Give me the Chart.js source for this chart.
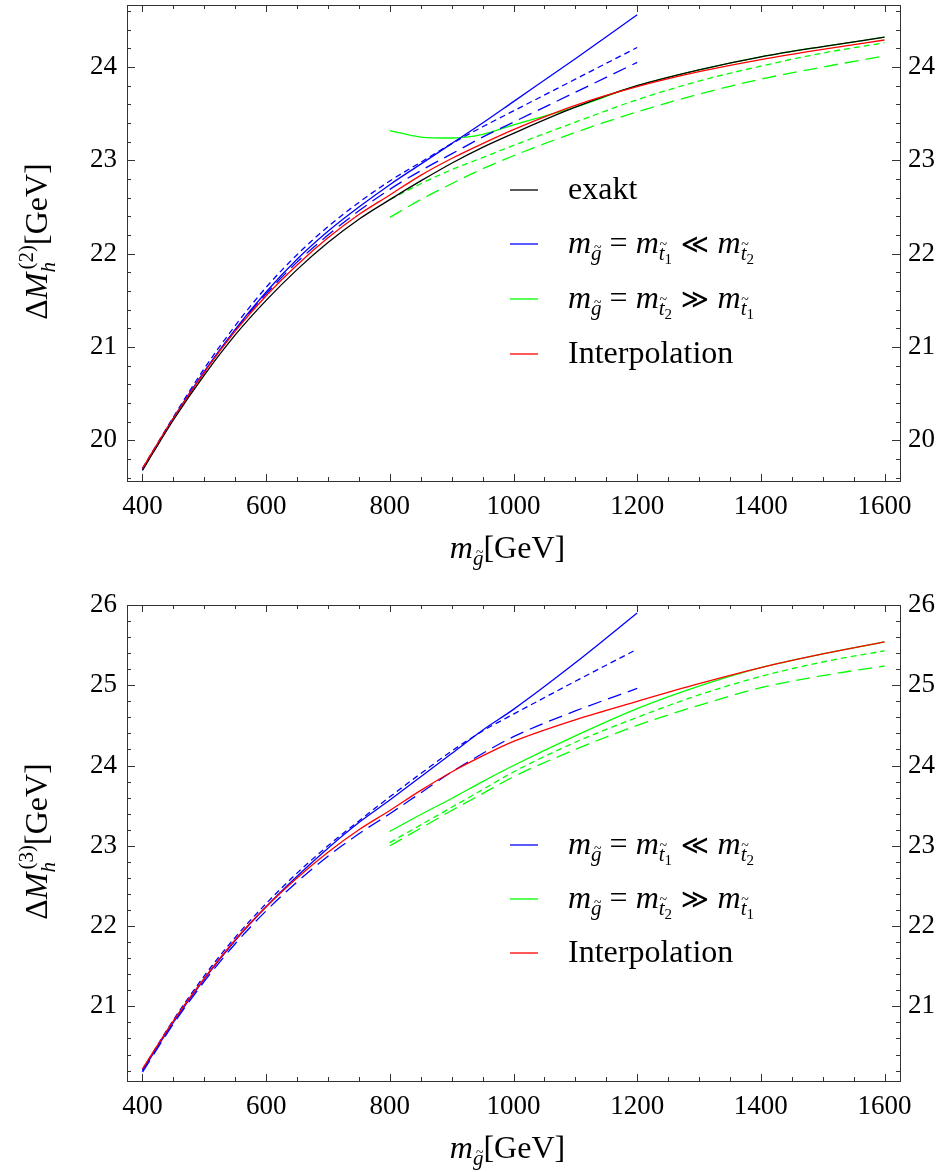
<!DOCTYPE html>
<html>
<head>
<meta charset="utf-8">
<script src="https://cdn.jsdelivr.net/npm/chart.js@4.4.0/dist/chart.umd.min.js"></script>
<style>
  html, body { margin: 0; padding: 0; background: #fff; }
  #wrap { position: relative; width: 940px; height: 1172px; }
  .box { position: absolute; left: 0; width: 940px; height: 586px; }
  #top { top: 0; }
  #bottom { top: 586px; }
</style>
</head>
<body>
<div id="wrap">
  <div class="box" id="top"><canvas id="twoLoop" width="940" height="586"></canvas></div>
  <div class="box" id="bottom"><canvas id="threeLoop" width="940" height="586"></canvas></div>
</div>
<script>
// gluino masses (GeV) for the three kinds of curves
const xFull = [400, 450, 500, 550, 600, 650, 700, 750, 800, 850, 900, 950, 1000, 1100, 1200, 1300, 1400, 1500, 1600];
const xLow  = [400, 450, 500, 550, 600, 650, 700, 750, 800, 850, 900, 950, 1000, 1100, 1200];
const xHigh = [800, 850, 900, 950, 1000, 1100, 1200, 1300, 1400, 1500, 1600];

// two-loop panel
const exakt2      = [19.68, 20.22, 20.70, 21.13, 21.50, 21.83, 22.12, 22.37, 22.58, 22.78, 22.97, 23.14, 23.29, 23.57, 23.80, 23.97, 24.11, 24.22, 24.32];
const interp2     = [19.70, 20.24, 20.73, 21.17, 21.55, 21.88, 22.17, 22.42, 22.63, 22.84, 23.02, 23.18, 23.33, 23.59, 23.79, 23.95, 24.08, 24.19, 24.29];
const blueSolid2  = [19.69, 20.24, 20.74, 21.19, 21.59, 21.94, 22.24, 22.50, 22.74, 22.96, 23.18, 23.40, 23.63, 24.09, 24.56];
const blueShort2  = [19.70, 20.25, 20.77, 21.23, 21.64, 21.99, 22.29, 22.55, 22.78, 22.98, 23.18, 23.36, 23.53, 23.87, 24.21];
const blueLong2   = [19.68, 20.23, 20.73, 21.18, 21.57, 21.91, 22.20, 22.46, 22.69, 22.89, 23.07, 23.25, 23.41, 23.73, 24.05];
const greenSolid2 = [23.32, 23.25, 23.24, 23.28, 23.38, 23.57, 23.80, 23.97, 24.11, 24.22, 24.32];
const greenShort2 = [22.58, 22.75, 22.90, 23.03, 23.16, 23.41, 23.65, 23.85, 24.01, 24.15, 24.26];
const greenLong2  = [22.39, 22.58, 22.75, 22.91, 23.05, 23.30, 23.52, 23.71, 23.87, 24.00, 24.12];

// three-loop panel
const interp3     = [20.22, 20.82, 21.35, 21.83, 22.24, 22.60, 22.92, 23.20, 23.44, 23.69, 23.92, 24.12, 24.30, 24.57, 24.80, 25.02, 25.22, 25.39, 25.54];
const blueSolid3  = [20.20, 20.80, 21.34, 21.82, 22.24, 22.62, 22.97, 23.29, 23.57, 23.86, 24.15, 24.44, 24.70, 25.28, 25.90];
const blueShort3  = [20.21, 20.83, 21.38, 21.86, 22.28, 22.66, 23.00, 23.31, 23.61, 23.90, 24.18, 24.43, 24.64, 25.05, 25.45];
const blueLong3   = [20.18, 20.78, 21.31, 21.78, 22.19, 22.55, 22.87, 23.15, 23.40, 23.66, 23.92, 24.15, 24.36, 24.68, 24.96];
const greenSolid3 = [23.18, 23.39, 23.59, 23.80, 24.00, 24.37, 24.71, 24.99, 25.22, 25.39, 25.54];
const greenShort3 = [23.04, 23.26, 23.48, 23.70, 23.92, 24.29, 24.60, 24.88, 25.11, 25.29, 25.43];
const greenLong3  = [23.00, 23.22, 23.44, 23.65, 23.86, 24.20, 24.50, 24.75, 24.97, 25.12, 25.24];

const BLACK = "#000000", BLUE = "#0000ff", GREEN = "#00ff00", RED = "#ff0000";
const SHORT = [6, 4], LONG = [14, 7];
const SERIF = '"Liberation Serif", "DejaVu Serif", serif';
const TXT = 32;   // legend / axis title size
const SUB = 21;
const SUBSUB = 15;

const series = (xs, ys, color, dash) => ({
    data: xs.map((x, i) => ({ x: x, y: ys[i] })),
    borderColor: color,
    borderWidth: 1.3,
    borderDash: dash || [],
    pointRadius: 0,
    fill: false,
    cubicInterpolationMode: "monotone",
});

//draw a run of text pieces (italic, sub/superscripts, tilde accents)
const fontOf = (p) => (p.it ? "italic " : "") + p.s + "px " + (p.f || SERIF);
const drawRich = (ctx, x, y, parts, align) => {
    let total = 0;
    parts.forEach((p) => {
        ctx.font = fontOf(p);
        p.w = ctx.measureText(p.t).width;
        if (!p.noAdvance) total += p.w;
    });
    let cx = align === "center" ? x - total / 2 : x;
    ctx.textAlign = "left";
    ctx.textBaseline = "alphabetic";
    parts.forEach((p) => {
        ctx.font = fontOf(p);
        const py = y + (p.dy || 0);
        ctx.fillText(p.t, cx + (p.dx || 0), py);
        if (p.tilde) {
            ctx.font = "14px " + SERIF;
            ctx.textAlign = "center";
            ctx.fillText("~", cx + p.w / 2 + 1.5, py - p.tilde);
            ctx.textAlign = "left";
        }
        if (!p.noAdvance) cx += p.w;
    });
};

const mg = () => [
    { t: "m", s: TXT, it: true },
    { t: "g", s: SUB, it: true, dy: 7, tilde: 8 },
];
const mt = (n) => [
    { t: "m", s: TXT, it: true },
    { t: "t", s: SUB, it: true, dy: 7, tilde: 11 },
    { t: n, s: SUBSUB, dy: 11 },
];

const legendBlue = [...mg(), { t: " = ", s: TXT }, ...mt("1"), { t: " \u226A ", s: 27, f: '"DejaVu Sans", sans-serif' }, ...mt("2")];
const legendGreen = [...mg(), { t: " = ", s: TXT }, ...mt("2"), { t: " \u226B ", s: 27, f: '"DejaVu Sans", sans-serif' }, ...mt("1")];

const makeChart = (id, cfg) => {
    const decor = {
        id: "decor",
        afterDraw(chart) {
            const ctx = chart.ctx;
            const a = chart.chartArea;
            const x = chart.scales.x;
            const y = chart.scales.y;
            ctx.save();

            //inward ticks on all four sides
            ctx.strokeStyle = "#333";
            ctx.lineWidth = 1;
            ctx.beginPath();
            for (let k = Math.ceil(x.min / 50); k * 50 <= x.max; k++) {
                const px = Math.round(x.getPixelForValue(k * 50)) + 0.5;
                const len = k % 4 === 0 ? 7 : 4;
                ctx.moveTo(px, a.bottom); ctx.lineTo(px, a.bottom - len);
                ctx.moveTo(px, a.top); ctx.lineTo(px, a.top + len);
            }
            for (let k = Math.ceil(y.min / 0.2 - 1e-6); k * 0.2 <= y.max + 1e-6; k++) {
                const py = Math.round(y.getPixelForValue(k * 0.2)) + 0.5;
                const len = k % 5 === 0 ? 8 : 4;
                ctx.moveTo(a.left, py); ctx.lineTo(a.left + len, py);
                ctx.moveTo(a.right, py); ctx.lineTo(a.right - len, py);
            }
            ctx.stroke();
            ctx.strokeRect(Math.round(a.left) + 0.5, Math.round(a.top) + 0.5, Math.round(a.width), Math.round(a.height));

            //legend
            ctx.fillStyle = "#000";
            cfg.legend.forEach((item, i) => {
                const ly = cfg.legendY[i];
                ctx.strokeStyle = item.color;
                ctx.lineWidth = 1.3;
                ctx.beginPath();
                ctx.moveTo(510, ly); ctx.lineTo(538, ly);
                ctx.stroke();
                drawRich(ctx, 568, ly + 9, item.parts, "left");
            });

            //axis titles
            drawRich(ctx, (a.left + a.right) / 2 - 6, cfg.xTitleY, [...mg(), { t: "[GeV]", s: TXT }], "center");
            ctx.translate(47, (a.top + a.bottom) / 2);
            ctx.rotate(-Math.PI / 2);
            drawRich(ctx, 0, 0, [
                { t: "\u0394", s: TXT },
                { t: "M", s: TXT, it: true },
                { t: "h", s: SUB, it: true, dy: 8, noAdvance: true },
                { t: "(" + cfg.loop + ")", s: SUB, dy: -14, dx: 3 },
                { t: "[GeV]", s: TXT, dx: 3 },
            ], "center");
            ctx.restore();
        },
    };

    const tickFont = { family: SERIF, size: 27 };
    const yTicks = (pad) => ({
        stepSize: 1,
        includeBounds: false,
        padding: pad,
        color: "#000",
        font: tickFont,
        callback: (v) => String(v),
    });
    //fixed box sizes so the plot frame lands where the original has it
    const fixY = (w) => (s) => { s.width = w; s.paddingTop = 0; s.paddingBottom = 0; };

    return new Chart(document.getElementById(id), {
        type: "line",
        data: { datasets: cfg.datasets },
        options: {
            responsive: false,
            animation: false,
            devicePixelRatio: 1,
            layout: { padding: { top: cfg.top, left: 0, right: 0, bottom: 0 } },
            plugins: { legend: { display: false }, tooltip: { enabled: false } },
            scales: {
                x: {
                    type: "linear",
                    min: 375,
                    max: 1625,
                    grid: { display: false, drawTicks: false },
                    border: { display: false },
                    ticks: {
                        stepSize: 200,
                        includeBounds: false,
                        padding: 10,
                        maxRotation: 0,
                        autoSkip: false,
                        color: "#000",
                        font: tickFont,
                        callback: (v) => String(v),
                    },
                    afterFit: (s) => { s.height = 586 - cfg.bottom; s.paddingLeft = 0; s.paddingRight = 0; },
                },
                y: {
                    position: "left",
                    min: cfg.yMin,
                    max: cfg.yMax,
                    grid: { display: false, drawTicks: false },
                    border: { display: false },
                    ticks: yTicks(10),
                    afterFit: fixY(127),
                },
                y2: {
                    position: "right",
                    min: cfg.yMin,
                    max: cfg.yMax,
                    grid: { display: false, drawTicks: false },
                    border: { display: false },
                    ticks: yTicks(8),
                    afterFit: fixY(40),
                },
            },
        },
        plugins: [decor],
    });
};

makeChart("twoLoop", {
    loop: 2,
    top: 5,
    bottom: 481,
    yMin: 19.565,
    yMax: 24.665,
    xTitleY: 558,
    legendY: [190, 244, 299, 354],
    legend: [
        { color: BLACK, parts: [{ t: "exakt", s: TXT }] },
        { color: BLUE, parts: legendBlue },
        { color: GREEN, parts: legendGreen },
        { color: RED, parts: [{ t: "Interpolation", s: TXT }] },
    ],
    datasets: [
        series(xFull, interp2, RED),
        series(xFull, exakt2, BLACK),
        series(xLow, blueSolid2, BLUE),
        series(xLow, blueShort2, BLUE, SHORT),
        series(xLow, blueLong2, BLUE, LONG),
        series(xHigh, greenSolid2, GREEN),
        series(xHigh, greenShort2, GREEN, SHORT),
        series(xHigh, greenLong2, GREEN, LONG),
    ],
});

makeChart("threeLoop", {
    loop: 3,
    top: 19,
    bottom: 495,
    yMin: 20.07,
    yMax: 26.0,
    xTitleY: 572,
    legendY: [259, 313, 367],
    legend: [
        { color: BLUE, parts: legendBlue },
        { color: GREEN, parts: legendGreen },
        { color: RED, parts: [{ t: "Interpolation", s: TXT }] },
    ],
    datasets: [
        series(xFull, interp3, RED),
        series(xLow, blueSolid3, BLUE),
        series(xLow, blueShort3, BLUE, SHORT),
        series(xLow, blueLong3, BLUE, LONG),
        series(xHigh, greenSolid3, GREEN),
        series(xHigh, greenShort3, GREEN, SHORT),
        series(xHigh, greenLong3, GREEN, LONG),
    ],
});
</script>
</body>
</html>
